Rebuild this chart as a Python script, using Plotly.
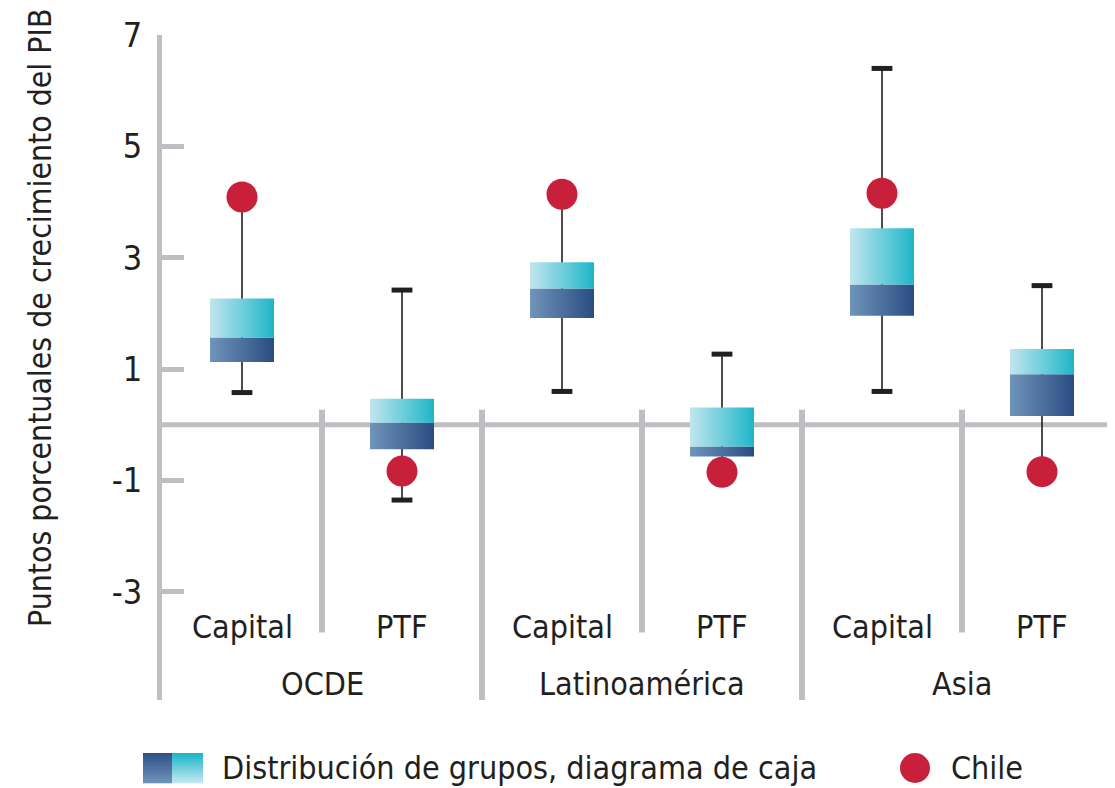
import plotly.graph_objects as go

# ---------------- data ----------------
groups = ["OCDE", "Latinoamérica", "Asia"]
components = ["Capital", "PTF"]
# order: OCDE Capital, OCDE PTF, Latam Capital, Latam PTF, Asia Capital, Asia PTF
whisker_low = [0.58, -1.35, 0.60, -0.85, 0.60, -0.84]
q1 = [1.13, -0.44, 1.92, -0.57, 1.96, 0.16]
median = [1.57, 0.04, 2.45, -0.39, 2.52, 0.91]
q3 = [2.27, 0.47, 2.92, 0.31, 3.53, 1.36]
whisker_high = [4.09, 2.42, 4.14, 1.27, 6.40, 2.50]
chile = [4.09, -0.83, 4.14, -0.85, 4.16, -0.84]
# which whisker ends show a cap (others are hidden behind the Chile dot)
cap_low = [True, True, True, False, True, False]
cap_high = [False, True, False, True, True, True]

y_ticks = [-3, -1, 1, 3, 5, 7]
y_ticklabels = ["-3", "-1", "1", "3", "5", "7"]
y_title = "Puntos porcentuales de crecimiento del PIB"
legend_box_label = "Distribución de grupos, diagrama de caja"
legend_dot_label = "Chile"

# ---------------- style ----------------
FONT = "Liberation Sans Narrow, DejaVu Sans Condensed, Arial Narrow, sans-serif"
TXT = "#231f20"
GREY = "#bfbfc3"
RED = "#c8203a"
UP_SCALE = [[0, "#c2e6ee"], [1, "#1eb6ca"]]
LOW_SCALE = [[0, "#7095ba"], [1, "#2a4c83"]]
HALF = 0.2
CAP = 0.065
FS = 32

fig = go.Figure()
n = len(q1)
xs = [i + 0.5 for i in range(n)]

# whiskers
for i in range(n):
    fig.add_trace(go.Scatter(x=[xs[i], xs[i]], y=[whisker_low[i], whisker_high[i]],
                             mode="lines", line=dict(color=TXT, width=1.6),
                             hoverinfo="skip", showlegend=False))
    for flag, val in ((cap_low[i], whisker_low[i]), (cap_high[i], whisker_high[i])):
        if flag:
            fig.add_trace(go.Scatter(x=[xs[i] - CAP, xs[i] + CAP], y=[val, val],
                                     mode="lines", line=dict(color=TXT, width=5),
                                     hoverinfo="skip", showlegend=False))

# boxes (gradient fills)
for i in range(n):
    x0, x1 = xs[i] - HALF, xs[i] + HALF
    fig.add_trace(go.Scatter(x=[x0, x1, x1, x0, x0], y=[q1[i], q1[i], median[i], median[i], q1[i]],
                             mode="lines", fill="toself", line=dict(width=0),
                             fillgradient=dict(type="horizontal", colorscale=LOW_SCALE),
                             hoverinfo="skip", showlegend=False))
    fig.add_trace(go.Scatter(x=[x0, x1, x1, x0, x0], y=[median[i], median[i], q3[i], q3[i], median[i]],
                             mode="lines", fill="toself", line=dict(width=0),
                             fillgradient=dict(type="horizontal", colorscale=UP_SCALE),
                             hoverinfo="skip", showlegend=False))

# Chile dots
fig.add_trace(go.Scatter(x=xs, y=chile, mode="markers",
                         marker=dict(color=RED, size=31, line=dict(width=0)),
                         showlegend=False, cliponaxis=False))

# ---------------- layout ----------------
# the page body adds an 8px offset; size the figure so it fits the window
OFF = 8
W, H = 1115 - OFF, 788 - OFF
ML, MT = 162 - OFF, 35 - OFF
MB = H - (700 - OFF)
plot_w = W - ML
ph = H - MT - MB
fig.update_layout(
    width=W, height=H,
    margin=dict(l=ML, r=0, t=MT, b=MB, autoexpand=False),
    paper_bgcolor="white", plot_bgcolor="white",
    font=dict(family=FONT, color=TXT, size=FS),
    showlegend=False,
)
fig.update_xaxes(range=[0, plot_w / 160.0], showgrid=False, zeroline=False,
                 showticklabels=False, ticks="", showline=False, automargin=False)
fig.update_yaxes(range=[-4.94, 7], tickvals=y_ticks, ticktext=y_ticklabels,
                 showgrid=False, zeroline=False, automargin=False,
                 showline=True, linecolor=GREY, linewidth=5,
                 ticks="inside", ticklen=22, tickwidth=5, tickcolor=GREY,
                 tickfont=dict(size=34, family=FONT, color=TXT),
                 ticklabelstandoff=8)

shapes = []
# zero line
shapes.append(dict(type="line", xref="paper", yref="y", x0=0, x1=1, y0=0, y1=0,
                   line=dict(color=GREY, width=5), layer="below"))
# separators
for k in range(1, n):
    bottom = -4.94 if k % 2 == 0 else -3.73
    shapes.append(dict(type="line", xref="x", yref="y", x0=k, x1=k, y0=0.27, y1=bottom,
                       line=dict(color=GREY, width=6), layer="below"))

annotations = []
for i in range(n):
    annotations.append(dict(x=xs[i], y=-3.63, xref="x", yref="y", text=components[i % 2],
                            showarrow=False, font=dict(size=FS)))
for g, name in enumerate(groups):
    annotations.append(dict(x=2 * g + 1, y=-4.65, xref="x", yref="y", text=name,
                            showarrow=False, font=dict(size=FS)))

def px_x(p):
    return (p - OFF - ML) / plot_w
def px_y(p):
    return (H - MB - (p - OFF)) / ph

# y title
annotations.append(dict(x=px_x(40), y=px_y(318), xref="paper", yref="paper",
                        xanchor="center", yanchor="middle",
                        text=y_title, textangle=-90, showarrow=False, font=dict(size=31.7)))

# legend (custom, below plot)
def mix(c1, c2, t):
    a = [int(c1[j:j + 2], 16) for j in (1, 3, 5)]
    b = [int(c2[j:j + 2], 16) for j in (1, 3, 5)]
    return "#%02x%02x%02x" % tuple(round(a[k] + (b[k] - a[k]) * t) for k in range(3))

steps = 15
top_px, bot_px = 753, 783
for s in range(steps):
    t = s / (steps - 1)
    ya = top_px + (bot_px - top_px) * s / steps
    yb = top_px + (bot_px - top_px) * (s + 1) / steps
    shapes.append(dict(type="rect", xref="paper", yref="paper",
                       x0=px_x(143), x1=px_x(172.5), y0=px_y(yb + 0.3), y1=px_y(ya),
                       fillcolor=mix("#2f5189", "#6d92b8", t), line=dict(width=0)))
    shapes.append(dict(type="rect", xref="paper", yref="paper",
                       x0=px_x(172), x1=px_x(203), y0=px_y(yb + 0.3), y1=px_y(ya),
                       fillcolor=mix("#1eb5c9", "#c2e6ee", t), line=dict(width=0)))
shapes.append(dict(type="circle", xref="paper", yref="paper",
                   x0=px_x(900), x1=px_x(930), y0=px_y(783), y1=px_y(753),
                   fillcolor=RED, line=dict(width=0)))
annotations.append(dict(x=px_x(220), y=px_y(768), xref="paper", yref="paper",
                        xanchor="left", yanchor="middle",
                        text=legend_box_label, showarrow=False, font=dict(size=FS)))
annotations.append(dict(x=px_x(949), y=px_y(768), xref="paper", yref="paper",
                        xanchor="left", yanchor="middle",
                        text=legend_dot_label, showarrow=False, font=dict(size=FS)))

fig.update_layout(shapes=shapes, annotations=annotations)
fig.write_html("out.html")
